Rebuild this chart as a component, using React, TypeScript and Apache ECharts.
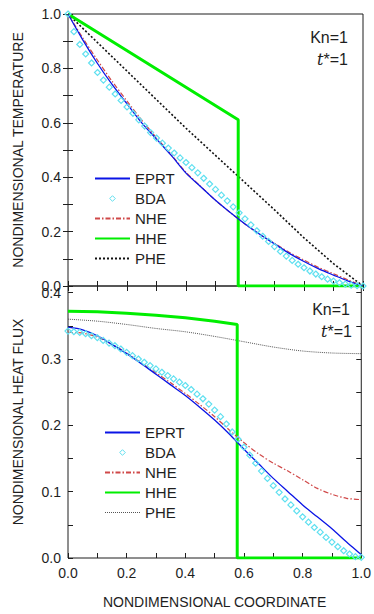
import React, { useEffect, useRef } from "react";
import * as echarts from "echarts";

// ---------- Data ----------
// Top panel: nondimensional temperature
const tEprtX = [0, 0.05, 0.1, 0.15, 0.2, 0.25, 0.3, 0.35, 0.4, 0.45, 0.5, 0.55, 0.6, 0.65, 0.7, 0.75, 0.8, 0.85, 0.9, 0.95, 1.0];
const tEprtY = [1.0, 0.905, 0.818, 0.74, 0.67, 0.6, 0.54, 0.48, 0.415, 0.365, 0.315, 0.27, 0.228, 0.19, 0.155, 0.12, 0.09, 0.063, 0.04, 0.018, 0.0];
const tNheY = [1.0, 0.912, 0.83, 0.752, 0.68, 0.61, 0.545, 0.483, 0.418, 0.366, 0.315, 0.27, 0.228, 0.19, 0.157, 0.124, 0.095, 0.068, 0.045, 0.022, 0.0];
const bdaX = [0, 0.02, 0.04, 0.06, 0.08, 0.1, 0.12, 0.14, 0.16, 0.18, 0.2, 0.22, 0.24, 0.26, 0.28, 0.3, 0.32, 0.34, 0.36, 0.38, 0.4, 0.42, 0.44, 0.46, 0.48, 0.5, 0.52, 0.54, 0.56, 0.58, 0.6, 0.62, 0.64, 0.66, 0.68, 0.7, 0.72, 0.74, 0.76, 0.78, 0.8, 0.82, 0.84, 0.86, 0.88, 0.9, 0.92, 0.94, 0.96, 0.98, 1.0];
const tBdaY = [1.0, 0.935, 0.888, 0.853, 0.82, 0.785, 0.757, 0.731, 0.706, 0.682, 0.658, 0.635, 0.611, 0.588, 0.564, 0.544, 0.525, 0.507, 0.489, 0.471, 0.454, 0.435, 0.416, 0.396, 0.375, 0.355, 0.334, 0.313, 0.291, 0.269, 0.247, 0.225, 0.203, 0.183, 0.164, 0.145, 0.127, 0.11, 0.094, 0.08, 0.067, 0.055, 0.044, 0.034, 0.025, 0.018, 0.012, 0.007, 0.003, 0.001, 0.0];
const tHheX = [0, 0.577, 0.577, 1.0];
const tHheY = [1.0, 0.611, 0.0, 0.0];
const pheX = [0, 0.1, 0.2, 0.3, 0.4, 0.5, 0.6, 0.7, 0.8, 0.9, 1.0];
const tPheY = [1.0, 0.895, 0.79, 0.685, 0.58, 0.48, 0.38, 0.28, 0.177, 0.082, 0.0];

// Bottom panel: nondimensional heat flux
const qEprtY = [0.348, 0.344, 0.335, 0.322, 0.308, 0.293, 0.277, 0.261, 0.245, 0.227, 0.208, 0.187, 0.164, 0.142, 0.12, 0.1, 0.08, 0.062, 0.044, 0.024, 0.005];
const qNheY = [0.34, 0.339, 0.333, 0.322, 0.309, 0.294, 0.279, 0.264, 0.248, 0.231, 0.213, 0.193, 0.174, 0.157, 0.143, 0.131, 0.118, 0.105, 0.096, 0.09, 0.088];
const qBdaY = [0.342, 0.341, 0.34, 0.338, 0.335, 0.332, 0.328, 0.324, 0.32, 0.315, 0.31, 0.305, 0.3, 0.295, 0.29, 0.285, 0.28, 0.275, 0.27, 0.265, 0.26, 0.254, 0.247, 0.24, 0.232, 0.223, 0.213, 0.202, 0.19, 0.179, 0.167, 0.155, 0.143, 0.131, 0.12, 0.109, 0.099, 0.089, 0.08, 0.071, 0.062, 0.054, 0.046, 0.039, 0.031, 0.024, 0.017, 0.011, 0.006, 0.002, 0.001];
const qHheX = [0, 0.1, 0.2, 0.3, 0.4, 0.5, 0.577, 0.577, 1.0];
const qHheY = [0.372, 0.371, 0.369, 0.366, 0.362, 0.357, 0.352, 0.0, 0.0];
const qPheY = [0.36, 0.357, 0.352, 0.346, 0.341, 0.334, 0.326, 0.318, 0.312, 0.309, 0.308];

const seriesNames = ["EPRT", "BDA", "NHE", "HHE", "PHE"];
const xTitle = "NONDIMENSIONAL COORDINATE";
const tTitle = "NONDIMENSIONAL TEMPERATURE";
const qTitle = "NONDIMENSIONAL HEAT FLUX";

const FONT = "'Liberation Sans', Arial, sans-serif";
const INK = "#1e1e1e";
const C_EPRT = "#0a14e6";
const C_BDA = "#5fe0f0";
const C_NHE = "#d04848";
const C_HHE = "#00ee00";

const zip = (xs: number[], ys: number[]) => xs.map((x, i) => [x, ys[i]]);

function fmtStep(step: number) {
  return (v: number) => {
    const k = v / step;
    return Math.abs(k - Math.round(k)) < 1e-6 ? v.toFixed(1) : "";
  };
}

function legendData(pheStyle?: any) {
  return seriesNames.map((n) => {
    if (n === "BDA") return { name: n, itemStyle: { opacity: 1, color: "rgba(255,255,255,0)", borderColor: C_BDA, borderWidth: 1 } };
    if (n === "PHE" && pheStyle) return { name: n, itemStyle: { opacity: 0 }, lineStyle: pheStyle };
    return { name: n, itemStyle: { opacity: 0 } };
  });
}

export default function App() {
  const ref = useRef<HTMLDivElement>(null);
  useEffect(() => {
    if (!ref.current) return;
    const chart = echarts.init(ref.current, undefined, { renderer: "svg" });
    const tick = { show: true, inside: true, length: 5, lineStyle: { color: INK, width: 1 } };
    const noLine = { show: false };
    const grid0 = { left: 68, top: 14, width: 295, height: 272, show: true, borderColor: INK, borderWidth: 1 };
    const grid1 = { left: 68, top: 286, width: 295, height: 272, show: true, borderColor: INK, borderWidth: 1 };
    const lbl = { color: INK, fontFamily: FONT, fontSize: 14 };

    const xBase = { type: "value", min: 0, max: 1, interval: 0.1, splitLine: { show: false }, axisLine: noLine, axisTick: tick };
    const bdaSeries = (xi: number, yi: number, ys: number[]) => ({
      name: "BDA", type: "line", xAxisIndex: xi, yAxisIndex: yi, data: zip(bdaX, ys),
      symbol: "diamond", symbolSize: 6, showSymbol: true,
      lineStyle: { opacity: 0, width: 0 },
      itemStyle: { color: "rgba(255,255,255,0)", borderColor: C_BDA, borderWidth: 1.2 },
    });
    const option: any = {
      animation: false,
      backgroundColor: "#fff",
      grid: [grid0, grid1],
      xAxis: [
        { ...xBase, gridIndex: 0, position: "bottom", axisLabel: { show: false } },
        { ...xBase, gridIndex: 0, position: "top", axisLabel: { show: false } },
        {
          ...xBase, gridIndex: 1, position: "bottom",
          axisLabel: { ...lbl, margin: 8, formatter: fmtStep(0.2) },
          name: xTitle, nameLocation: "middle", nameGap: 37,
          nameTextStyle: { color: INK, fontFamily: FONT, fontSize: 14 },
        },
      ],
      yAxis: [
        {
          type: "value", gridIndex: 0, position: "left", min: 0, max: 1, interval: 0.1,
          splitLine: { show: false }, axisLine: noLine, axisTick: tick,
          axisLabel: { ...lbl, margin: 7, formatter: fmtStep(0.2) },
          name: tTitle, nameLocation: "middle", nameGap: 43,
          nameTextStyle: { color: INK, fontFamily: FONT, fontSize: 14 },
        },
        {
          type: "value", gridIndex: 0, position: "right", min: 0, max: 1, interval: 0.1,
          splitLine: { show: false }, axisLine: noLine, axisTick: tick, axisLabel: { show: false },
        },
        {
          type: "value", gridIndex: 1, position: "left", min: 0, max: 0.41, interval: 0.05,
          splitLine: { show: false }, axisLine: noLine, axisTick: tick,
          axisLabel: { ...lbl, margin: 7, formatter: fmtStep(0.1), showMaxLabel: false },
          name: qTitle, nameLocation: "middle", nameGap: 43,
          nameTextStyle: { color: INK, fontFamily: FONT, fontSize: 14 },
        },
        {
          type: "value", gridIndex: 1, position: "right", min: 0, max: 0.41, interval: 0.05,
          splitLine: { show: false }, axisLine: noLine, axisTick: tick, axisLabel: { show: false },
        },
      ],
      legend: [
        {
          orient: "vertical", left: 89, top: 166, itemWidth: 35, itemHeight: 7, itemGap: 5,
          textStyle: { color: INK, fontFamily: FONT, fontSize: 15 },
          data: legendData(),
        },
        {
          orient: "vertical", left: 99, top: 420, itemWidth: 35, itemHeight: 7, itemGap: 5,
          textStyle: { color: INK, fontFamily: FONT, fontSize: 15 },
          data: legendData({ color: "#555", width: 1, type: [1, 1] }),
        },
      ],
      graphic: [
        { type: "text", x: 348, y: 37, style: { text: "Kn=1", fill: INK, font: `16px ${FONT}`, textAlign: "right", textVerticalAlign: "middle" } },
        {
          type: "text", x: 348, y: 59,
          style: {
            text: "{i|t}{n|*=1}", textAlign: "right", textVerticalAlign: "middle", fill: INK,
            rich: {
              i: { fontStyle: "italic", fontSize: 16, fontFamily: "'DejaVu Serif', serif", fill: INK },
              n: { fontSize: 16, fontFamily: FONT, fill: INK },
            },
          },
        },
        { type: "text", x: 350, y: 309, style: { text: "Kn=1", fill: INK, font: `16px ${FONT}`, textAlign: "right", textVerticalAlign: "middle" } },
        {
          type: "text", x: 352, y: 331,
          style: {
            text: "{i|t}{n|*=1}", textAlign: "right", textVerticalAlign: "middle", fill: INK,
            rich: {
              i: { fontStyle: "italic", fontSize: 16, fontFamily: "'DejaVu Serif', serif", fill: INK },
              n: { fontSize: 16, fontFamily: FONT, fill: INK },
            },
          },
        },
      ],
      series: [
        // top panel
        bdaSeries(0, 0, tBdaY),
        {
          name: "PHE", type: "line", xAxisIndex: 0, yAxisIndex: 0, data: zip(pheX, tPheY), symbol: "none",
          lineStyle: { color: "#111", width: 1.6, type: [2, 2] },
        },
        {
          name: "HHE", type: "line", xAxisIndex: 0, yAxisIndex: 0, data: zip(tHheX, tHheY), symbol: "none",
          lineStyle: { color: C_HHE, width: 3 },
        },
        {
          name: "NHE", type: "line", xAxisIndex: 0, yAxisIndex: 0, data: zip(tEprtX, tNheY), symbol: "none", smooth: 0.3,
          lineStyle: { color: C_NHE, width: 1.2, type: [5, 2, 1.5, 2] },
        },
        {
          name: "EPRT", type: "line", xAxisIndex: 0, yAxisIndex: 0, data: zip(tEprtX, tEprtY), symbol: "none", smooth: 0.3,
          lineStyle: { color: C_EPRT, width: 1.3 },
        },
        // bottom panel
        bdaSeries(2, 2, qBdaY),
        {
          name: "PHE", type: "line", xAxisIndex: 2, yAxisIndex: 2, data: zip(pheX, qPheY), symbol: "none", smooth: 0.3,
          lineStyle: { color: "#444", width: 0.9, type: [1, 1] },
        },
        {
          name: "HHE", type: "line", xAxisIndex: 2, yAxisIndex: 2, data: zip(qHheX, qHheY), symbol: "none",
          lineStyle: { color: C_HHE, width: 3 },
        },
        {
          name: "NHE", type: "line", xAxisIndex: 2, yAxisIndex: 2, data: zip(tEprtX, qNheY), symbol: "none", smooth: 0.3,
          lineStyle: { color: C_NHE, width: 1.2, type: [5, 2, 1.5, 2] },
        },
        {
          name: "EPRT", type: "line", xAxisIndex: 2, yAxisIndex: 2, data: zip(tEprtX, qEprtY), symbol: "none", smooth: 0.3,
          lineStyle: { color: C_EPRT, width: 1.3 },
        },
      ],
    };
    chart.setOption(option);
    return () => chart.dispose();
  }, []);
  return (
    <div
      ref={ref}
      style={{ position: "fixed", left: 0, top: 0, width: 374, height: 614, background: "#fff" }}
    />
  );
}
